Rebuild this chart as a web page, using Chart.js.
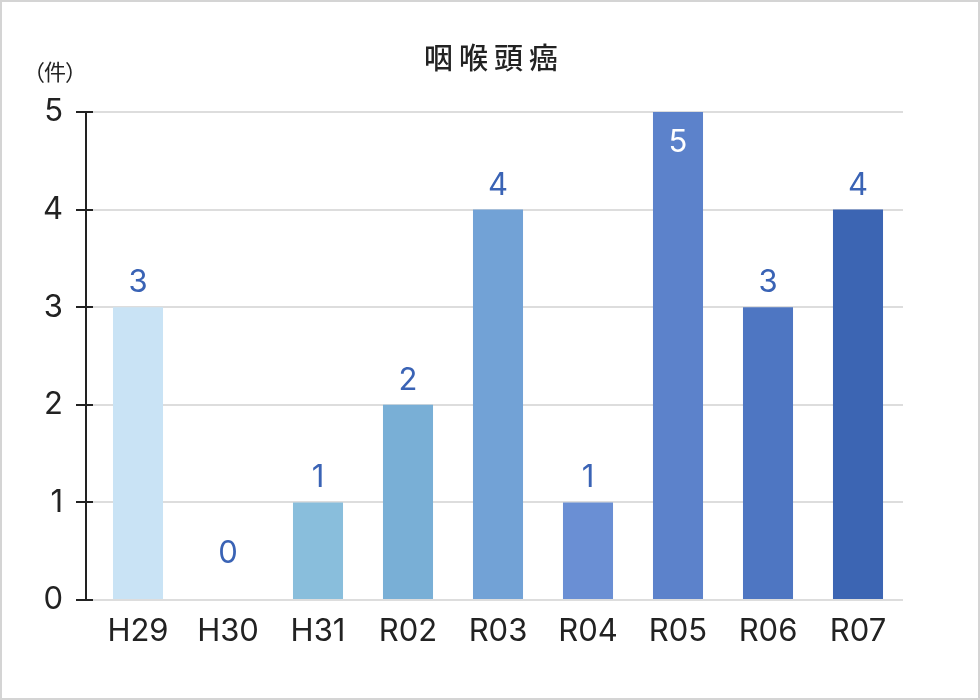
<!DOCTYPE html>
<html lang="ja">
<head>
<meta charset="utf-8">
<script src="https://cdn.jsdelivr.net/npm/chart.js@4"></script>
<style>
  html, body { margin: 0; padding: 0; background: #fff; }
  #wrap {
    width: 980px;
    height: 700px;
    box-sizing: border-box;
    border: 2px solid #d4d4d4;
  }
  canvas { display: block; }
</style>
</head>
<body>
<div id="wrap"><canvas id="chart" width="976" height="696"></canvas></div>
<script>
'use strict';

const labels = ['H29', 'H30', 'H31', 'R02', 'R03', 'R04', 'R05', 'R06', 'R07'];
const counts = [3, 0, 1, 2, 4, 1, 5, 3, 4];
const barColors = [
  '#c9e3f5',
  '#c3def2',
  '#89bedc',
  '#79afd6',
  '#72a2d6',
  '#6a8fd4',
  '#5c82cb',
  '#4e76c2',
  '#3c65b3',
];
const yTicks = [0, 1, 2, 3, 4, 5];
const titleText = '咽喉頭癌';
const unitText = '（件）';

const FONT = 'Inter, "Noto Sans CJK JP", sans-serif';
const CJK = '"Noto Sans CJK JP", sans-serif';
const TEXT = '#222222';
const LABEL_BLUE = '#3a63b5';

// title, unit label and the dark y axis line with crossing ticks
const decorPlugin = {
  id: 'decor',
  afterDraw(chart) {
    const ctx = chart.ctx;
    const y = chart.scales.y;
    ctx.save();

    ctx.fillStyle = TEXT;
    ctx.font = '500 29px ' + CJK;
    ctx.textBaseline = 'middle';
    ctx.textAlign = 'left';
    ctx.letterSpacing = '6px';
    const w = ctx.measureText(titleText).width - 6;
    ctx.fillText(titleText, 489 - w / 2, 56);

    ctx.letterSpacing = '-1px';
    ctx.font = '22px ' + CJK;
    ctx.fillText(unitText, 21, 70);

    const axisX = chart.chartArea.left - 7;
    ctx.strokeStyle = TEXT;
    ctx.lineWidth = 2;
    ctx.beginPath();
    ctx.moveTo(axisX, y.getPixelForValue(yTicks[yTicks.length - 1]));
    ctx.lineTo(axisX, y.getPixelForValue(yTicks[0]) + 1);
    ctx.stroke();
    ctx.restore();
  },
};

// value labels above each bar (inside in white when no room above)
const valuePlugin = {
  id: 'values',
  afterDatasetsDraw(chart) {
    const ctx = chart.ctx;
    const meta = chart.getDatasetMeta(0);
    ctx.save();
    ctx.font = '31px ' + FONT;
    ctx.textAlign = 'center';
    ctx.textBaseline = 'alphabetic';
    meta.data.forEach((bar, i) => {
      const value = counts[i];
      let ty = bar.y - 15;
      ctx.fillStyle = LABEL_BLUE;
      if (value === 0) {
        ty = bar.y - 37;
      } else if (bar.y - 40 < chart.chartArea.top) {
        ty = bar.y + 40;
        ctx.fillStyle = '#ffffff';
      }
      ctx.fillText(String(value), bar.x, ty);
    });
    ctx.restore();
  },
};

const chartData = {
  labels: labels,
  datasets: [
    {
      data: counts,
      backgroundColor: barColors,
      borderWidth: 0,
      barPercentage: 0.556,
      categoryPercentage: 1,
    },
  ],
};

const options = {
  responsive: false,
  animation: false,
  layout: {
    padding: { top: 110, right: 75, bottom: 0, left: 0 },
  },
  scales: {
    x: {
      grid: { display: false, drawTicks: false },
      border: { display: false },
      ticks: {
        color: TEXT,
        padding: 13,
        font: { family: FONT, size: 31 },
      },
      afterFit(scale) {
        scale.height = 98;
      },
    },
    y: {
      min: 0,
      max: 5,
      grid: {
        color: '#dddddd',
        lineWidth: 2,
        tickColor: TEXT,
        tickWidth: 2,
        tickLength: 17,
      },
      border: { display: false },
      ticks: {
        stepSize: 1,
        color: TEXT,
        padding: 13,
        font: { family: FONT, size: 31 },
      },
      afterFit(scale) {
        scale.width = 91;
      },
    },
  },
  plugins: {
    legend: { display: false },
    tooltip: { enabled: false },
  },
};

const ctx = document.getElementById('chart');
new Chart(ctx, {
  type: 'bar',
  data: chartData,
  options: options,
  plugins: [valuePlugin, decorPlugin],
});
</script>
</body>
</html>
